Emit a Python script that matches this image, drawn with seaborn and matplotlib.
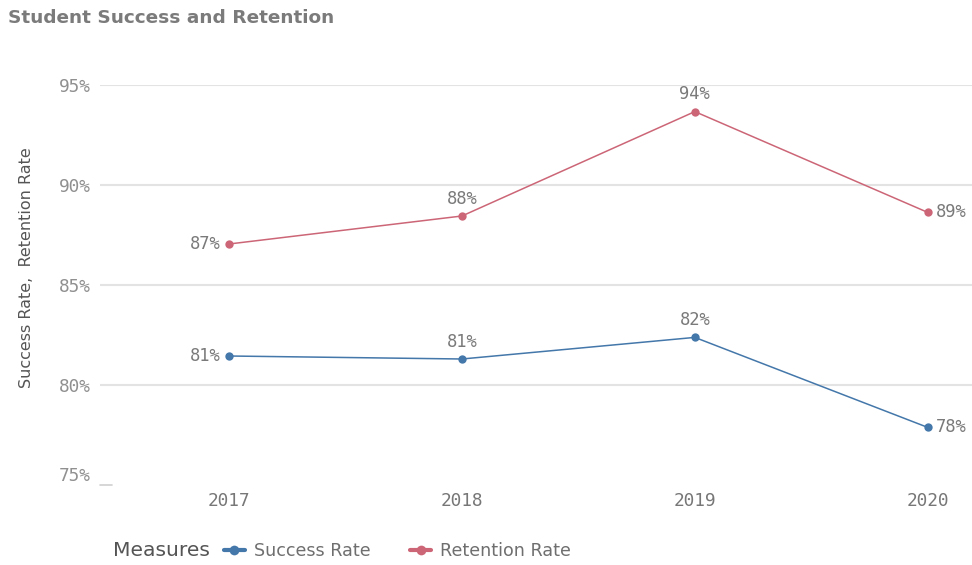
import numpy as np
import pandas as pd
import seaborn as sns
import matplotlib.pyplot as plt

years = ["2017", "2018", "2019", "2020"]
success_rate = [81.45, 81.3, 82.38, 77.88]
retention_rate = [87.05, 88.45, 93.67, 88.63]
measures = ["Success Rate", "Retention Rate"]
colors = ["#4477aa", "#cc6677"]
y_ticks = [75, 80, 85, 90, 95]

df = pd.DataFrame({
    "year": years * 2,
    "value": success_rate + retention_rate,
    "measure": [measures[0]] * 4 + [measures[1]] * 4,
})
df["pos"] = df["year"].map({y: i for i, y in enumerate(years)})

sns.set_style("white")
plt.rcParams['font.family'] = ['DejaVu Sans']

fig = plt.figure(figsize=(9.72, 5.65), dpi=100)
ax = fig.add_axes([100 / 972, 1 - 485 / 565, 872 / 972, 400 / 565])

sns.lineplot(data=df, x="pos", y="value", hue="measure", palette=colors,
             marker="o", markersize=6, markeredgewidth=0, linewidth=1.1,
             ax=ax, legend=False)

ax.set_xlim(-0.554, 3.19)
ax.set_ylim(75, 95)
ax.set_xticks(range(len(years)))
ax.set_xticklabels(years, family="DejaVu Sans Mono", color="#777777", fontsize=12.8)
ax.set_yticks(y_ticks)
ax.set_yticklabels([f"{t}%" for t in y_ticks], family="DejaVu Sans Mono",
                   color="#909090", fontsize=12.8)
ax.get_yticklabels()[0].set_va("bottom")
ax.tick_params(axis="both", length=0)
ax.tick_params(axis="y", pad=7)
ax.tick_params(axis="x", pad=5)
for t in y_ticks[1:]:
    ax.axhline(t, color="#e3e3e3", linewidth=1.5, zorder=0)
ax.axhline(75, xmin=0, xmax=12 / 872, color="#cfcfcf", linewidth=1.2, clip_on=False)
for s in ax.spines.values():
    s.set_visible(False)
ax.set_xlabel("")
ax.set_ylabel("Success Rate,  Retention Rate", color="#555555", fontsize=11.5)
ax.yaxis.set_label_coords(-0.076, 0.5425)

# data labels
for vals in [success_rate, retention_rate]:
    for i, v in enumerate(vals):
        if i == 0:
            off, ha, va = (-6, 0), "right", "center"
        elif i == len(vals) - 1:
            off, ha, va = (6, 0), "left", "center"
        else:
            off, ha, va = (0, 6), "center", "bottom"
        ax.annotate(f"{round(v)}%", (i, v), xytext=off, textcoords="offset points",
                    ha=ha, va=va, family="DejaVu Sans Mono", color="#7a7a7a",
                    fontsize=12.3)

fig.text(8 / 972, 1 - 18 / 565, "Student Success and Retention", fontsize=13.3,
         fontweight="bold", color="#7b7b7b", ha="left", va="center")

# legend
handles = [plt.Line2D([], [], color=c, marker="o", markersize=7, linewidth=3,
                      markeredgewidth=0) for c in colors]
fig.text(113 / 972, 1 - 551 / 565, "Measures", fontsize=14.6, color="#555555",
         ha="left", va="center")
fig.legend(handles, measures, loc="center left",
           bbox_to_anchor=(208 / 972, 1 - 551 / 565), ncol=2, frameon=False,
           handlelength=1.2, handletextpad=0.5, columnspacing=2.3,
           labelcolor="#6f6f6f", fontsize=12.6)

fig.savefig("out.png", dpi=100)
